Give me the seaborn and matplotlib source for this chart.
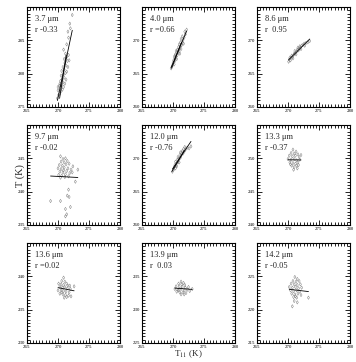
import numpy as np
import seaborn as sns
import matplotlib.pyplot as plt
from matplotlib.ticker import MultipleLocator

# channel wavelength labels and correlation text
bands = ["3.7", "4.0", "8.6", "9.7", "12.0", "13.3", "13.6", "13.9", "14.2"]
r_text = ["r -0.33", "r =0.66", "r  0.95", "r -0.02", "r -0.76", "r -0.37",
          "r =0.02", "r  0.03", "r -0.05"]
y_lo = [275, 260, 260, 235, 260, 240, 230, 225, 215]
two_lines = [True, True, False, False, True, False, False, False, False]

# T11 (x) and band brightness temperature (y)
t11_37 = [269.9, 270.1, 270.3, 270.0, 270.5, 270.4, 270.7, 270.2, 270.6, 270.9, 270.8, 270.4, 271.1, 270.7,
          271.0, 270.5, 271.3, 270.9, 271.2, 270.6, 271.0, 271.4, 270.8, 271.3, 271.1, 271.6, 271.5, 271.0,
          271.8, 271.4, 271.7, 271.2, 270.9, 271.4, 271.7, 271.6, 272.0, 271.9, 272.3, 270.3, 270.0]
t_37 = [276.3, 276.8, 277.0, 277.5, 277.4, 277.9, 277.6, 278.2, 278.3, 278.0, 278.7, 278.9, 278.5, 279.2,
        279.4, 279.7, 279.1, 279.9, 280.1, 280.4, 280.6, 280.3, 281.0, 281.2, 281.6, 281.0, 281.9, 282.2,
        282.0, 282.5, 282.8, 283.0, 283.6, 284.4, 285.4, 286.3, 286.8, 287.5, 288.8, 278.5, 278.0]

t11_40 = [269.7, 269.9, 270.0, 270.2, 270.1, 270.3, 270.4, 270.2, 270.5, 270.6, 270.4, 270.7, 270.6, 270.8,
          270.9, 270.7, 271.0, 271.1, 270.9, 271.2, 271.3, 271.0, 271.4, 271.2, 271.5, 271.6, 271.3, 271.7,
          271.8, 271.5, 272.0, 271.9, 272.2, 270.5, 270.3, 271.1]
t_40 = [265.8, 266.2, 266.6, 266.4, 267.0, 266.9, 267.3, 267.5, 267.6, 267.2, 267.9, 267.8, 268.2, 268.1,
        268.5, 268.6, 268.3, 268.8, 269.0, 269.1, 268.7, 269.4, 269.3, 269.7, 269.6, 270.0, 270.2, 269.5,
        270.4, 270.6, 270.9, 271.3, 271.6, 268.4, 267.7, 268.0]

t11_86 = [270.1, 270.2, 270.4, 270.5, 270.7, 270.6, 270.9, 271.0, 271.2, 271.1, 271.4, 271.5, 271.7, 271.8,
          272.0, 271.9, 272.2, 272.4, 272.6, 272.9, 273.2, 273.5, 270.8, 271.3, 271.6, 272.1, 270.3, 272.7]
t_86 = [266.8, 267.1, 267.0, 267.4, 267.5, 267.7, 267.8, 268.0, 268.1, 268.4, 268.3, 268.6, 268.5, 268.8,
        268.9, 269.1, 269.2, 269.3, 269.5, 269.6, 269.7, 269.9, 267.3, 267.9, 268.9, 268.7, 267.4, 269.2]

t11_97 = [270.4, 270.8, 271.2, 270.5, 271.0, 271.5, 270.2, 270.7, 271.3, 271.8, 272.4, 270.0, 270.5, 271.0,
          271.6, 272.1, 270.3, 270.8, 271.4, 271.9, 270.1, 270.6, 271.2, 271.7, 272.3, 273.2, 270.9, 271.1,
          270.4, 272.8, 271.7, 271.5, 271.8, 270.4, 268.8, 271.2, 272.0, 271.2, 271.4]
t_97 = [245.3, 244.9, 245.0, 244.5, 244.4, 244.6, 244.0, 243.9, 244.1, 244.2, 243.8, 243.5, 243.4, 243.6,
        243.5, 243.3, 243.0, 242.9, 243.1, 242.8, 242.5, 242.4, 242.6, 242.3, 242.9, 243.3, 243.2, 242.2,
        242.1, 241.5, 240.3, 239.4, 239.2, 238.6, 238.6, 237.4, 237.7, 236.3, 236.6]

t11_120 = [269.9, 270.1, 270.2, 270.4, 270.3, 270.5, 270.6, 270.4, 270.8, 270.7, 270.9, 271.0, 270.8, 271.2,
           271.1, 271.3, 271.4, 271.2, 271.6, 271.5, 271.8, 271.7, 272.0, 272.3, 272.6, 272.9, 271.9, 270.6,
           271.0]
t_120 = [268.0, 268.3, 268.7, 268.5, 269.0, 268.9, 269.3, 269.5, 269.4, 269.8, 269.7, 270.0, 270.2, 270.1,
         270.5, 270.4, 270.8, 270.9, 270.7, 271.1, 271.0, 271.4, 271.3, 271.6, 271.5, 271.8, 271.7, 268.8,
         269.4]

t11_133 = [270.8, 271.3, 270.5, 271.0, 271.6, 270.2, 270.7, 271.2, 271.8, 272.1, 270.0, 270.5, 271.0, 271.4,
           271.9, 270.3, 270.8, 271.2, 271.6, 270.6, 271.0, 271.4, 270.9, 271.5, 270.4, 271.7]
t_133 = [251.3, 251.0, 250.8, 250.7, 250.6, 250.4, 250.3, 250.4, 250.2, 250.5, 249.9, 249.8, 249.9, 249.7,
         249.8, 249.4, 249.3, 249.2, 249.4, 248.9, 248.7, 248.9, 248.3, 248.5, 249.1, 249.0]

t11_136 = [270.9, 270.6, 271.1, 270.1, 270.5, 270.9, 271.4, 271.9, 272.6, 270.3, 270.7, 271.1, 271.5, 272.0,
           270.0, 270.5, 270.9, 271.3, 271.8, 270.3, 270.8, 271.2, 271.7, 272.1, 271.0, 271.4, 270.6, 271.6]
t_136 = [239.8, 239.3, 239.2, 238.9, 238.8, 238.7, 238.9, 238.6, 238.5, 238.4, 238.3, 238.4, 238.2, 238.1,
         237.9, 237.9, 237.8, 237.7, 237.6, 237.4, 237.3, 237.2, 237.1, 237.0, 236.8, 236.9, 237.6, 238.6]

t11_139 = [271.3, 271.7, 270.9, 271.4, 271.9, 270.5, 271.0, 271.5, 272.0, 272.5, 270.3, 270.8, 271.3, 271.8,
           272.3, 273.1, 270.6, 271.1, 271.6, 272.1, 271.3, 271.8, 270.9, 272.7]
t_139 = [234.2, 234.0, 233.9, 233.8, 233.7, 233.5, 233.5, 233.4, 233.3, 233.4, 233.1, 233.0, 233.1, 232.9,
         233.0, 233.1, 232.7, 232.6, 232.6, 232.5, 232.3, 232.3, 232.9, 232.8]

t11_142 = [271.1, 271.5, 270.8, 271.3, 271.8, 270.5, 271.0, 271.5, 272.0, 270.2, 270.7, 271.2, 271.7, 272.2,
           270.4, 270.9, 271.4, 271.9, 270.6, 271.1, 271.6, 272.1, 270.9, 271.4, 273.3, 271.0, 271.5, 270.7,
           271.2]
t_142 = [224.9, 224.6, 224.3, 224.2, 224.3, 223.9, 223.8, 223.7, 223.8, 223.4, 223.3, 223.4, 223.2, 223.3,
         222.9, 222.8, 222.9, 222.7, 222.4, 222.3, 222.4, 222.2, 221.9, 221.8, 221.8, 221.3, 221.1, 220.5,
         222.0]

xs = [t11_37, t11_40, t11_86, t11_97, t11_120, t11_133, t11_136, t11_139, t11_142]
ys = [t_37, t_40, t_86, t_97, t_120, t_133, t_136, t_139, t_142]

sns.set_style("ticks")
plt.rcParams['font.family'] = ['Liberation Serif', 'DejaVu Serif']
plt.rcParams['mathtext.fontset'] = 'stix'

W, H = 356, 362
fig = plt.figure(figsize=(W / 100, H / 100), dpi=100)

lefts = [27, 142, 257]
tops = [7, 125, 243]
pw, ph = 93, 100

for i in range(9):
    row, col = divmod(i, 3)
    ax = fig.add_axes([lefts[col] / W, 1 - (tops[row] + ph) / H, pw / W, ph / H])
    x = np.array(xs[i])
    y = np.array(ys[i])
    ax.scatter(x, y, marker='d', s=3, facecolors='none', edgecolors='0.5', linewidths=0.35, zorder=2)
    sns.regplot(x=x, y=y, ax=ax, scatter=False, ci=None, truncate=True,
                line_kws=dict(color='black', lw=0.6, zorder=3))
    if two_lines[i]:
        # regression of T11 on T, drawn across the T range
        b, a = np.polyfit(y, x, 1)
        yy = np.array([y.min(), np.percentile(y, 80)])
        ax.plot(a + b * yy, yy, color='black', lw=0.6, zorder=3)
    ax.set_xlim(265, 280)
    ax.set_ylim(y_lo[i], y_lo[i] + 15)
    ax.set_xticks([265, 270, 275, 280])
    ax.set_yticks([y_lo[i], y_lo[i] + 5, y_lo[i] + 10])
    ax.xaxis.set_minor_locator(MultipleLocator(0.5))
    ax.yaxis.set_minor_locator(MultipleLocator(0.5))
    ax.tick_params(which='both', direction='in', top=True, right=True, labelsize=3.5,
                   pad=1.5, colors='black')
    ax.tick_params(which='major', length=3.5, width=0.6)
    ax.tick_params(which='minor', length=2, width=0.6)
    for sp in ax.spines.values():
        sp.set_linewidth(0.8)
        sp.set_color('black')
    ax.set_xlabel('')
    ax.set_ylabel('')
    ax.text(0.09, 0.86, bands[i] + " μm", transform=ax.transAxes, fontsize=6)
    ax.text(0.09, 0.75, r_text[i], transform=ax.transAxes, fontsize=6)

fig.text(20 / W, 1 - 176 / H, "T (K)", rotation=90, fontsize=7.5, ha='center', va='center')
fig.text(188 / W, 1.5 / H, r"T$_{\rm 11}$ (K)", fontsize=6.5, ha='center', va='bottom')

fig.savefig("out.png", dpi=100)
